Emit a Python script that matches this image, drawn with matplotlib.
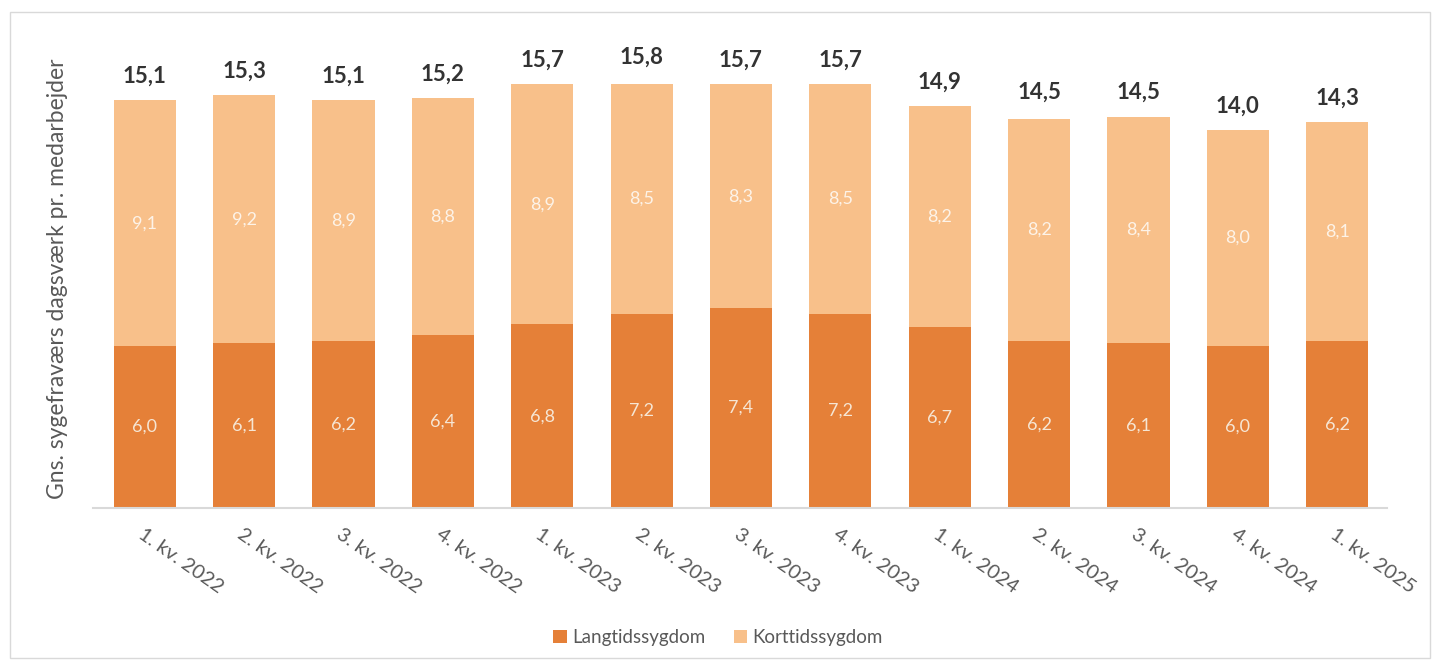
import numpy as np
import matplotlib.pyplot as plt
from matplotlib.patches import Rectangle

plt.rcParams['font.family'] = ['Lato', 'DejaVu Sans']

# data
quarters = ['1. kv. 2022', '2. kv. 2022', '3. kv. 2022', '4. kv. 2022',
            '1. kv. 2023', '2. kv. 2023', '3. kv. 2023', '4. kv. 2023',
            '1. kv. 2024', '2. kv. 2024', '3. kv. 2024', '4. kv. 2024',
            '1. kv. 2025']
langtid = [6.0, 6.1, 6.2, 6.4, 6.8, 7.2, 7.4, 7.2, 6.7, 6.2, 6.1, 6.0, 6.2]
korttid = [9.1, 9.2, 8.9, 8.8, 8.9, 8.5, 8.3, 8.5, 8.2, 8.2, 8.4, 8.0, 8.1]
totals = [15.1, 15.3, 15.1, 15.2, 15.7, 15.8, 15.7, 15.7, 14.9, 14.5, 14.5, 14.0, 14.3]

dark = '#E58038'
light = '#F8C08A'
grey = '#595959'


def fmt(v):
    # danish decimal comma
    return f'{v:.1f}'.replace('.', ',')


fig = plt.figure(figsize=(14.36, 6.64), dpi=100)
ax = fig.add_axes([0.0648, 0.235, 0.901, 0.691])

x = np.arange(len(quarters))
b1 = ax.bar(x, langtid, width=0.625, color=dark, label='Langtidssygdom')
b2 = ax.bar(x, korttid, width=0.625, bottom=langtid, color=light, label='Korttidssygdom')

for i in range(len(quarters)):
    ax.text(x[i], langtid[i] / 2, fmt(langtid[i]), ha='center', va='center',
            fontsize=13, color='#F6E6D4')
    ax.text(x[i], langtid[i] + korttid[i] / 2, fmt(korttid[i]), ha='center', va='center',
            fontsize=13, color='#FDF3E8')
    ax.text(x[i], totals[i] + 0.5, fmt(totals[i]), ha='center', va='bottom',
            fontsize=16, fontweight='bold', color='#333333')

ax.set_xlim(-0.52, len(quarters) - 0.5)
ax.set_ylim(0, 17)
ax.set_yticks([])
ax.set_xticks(x)
ax.set_xticklabels(quarters, rotation=-35, ha='left', rotation_mode='anchor',
                   fontsize=14.5, color=grey)
ax.tick_params(axis='x', length=0, pad=13)
for s in ['top', 'right', 'left']:
    ax.spines[s].set_visible(False)
ax.spines['bottom'].set_color('#D9D9D9')
ax.spines['bottom'].set_linewidth(1.5)

ax.set_ylabel('Gns. sygefraværs dagsværk pr. medarbejder', fontsize=16.5, color=grey)
ax.yaxis.set_label_coords(-0.019, 0.5)

fig.legend(handles=[b1, b2], loc='center', bbox_to_anchor=(0.5, 0.04), ncol=2,
           frameon=False, fontsize=13.5, labelcolor=grey, handlelength=0.7,
           handleheight=0.7, columnspacing=1.5, handletextpad=0.3)

fig.patches.append(Rectangle((10 / 1436, 6 / 664), 1420 / 1436, 646 / 664,
                             transform=fig.transFigure, fill=False,
                             edgecolor='#D9D9D9', linewidth=1))

fig.savefig('out.png', dpi=100)
